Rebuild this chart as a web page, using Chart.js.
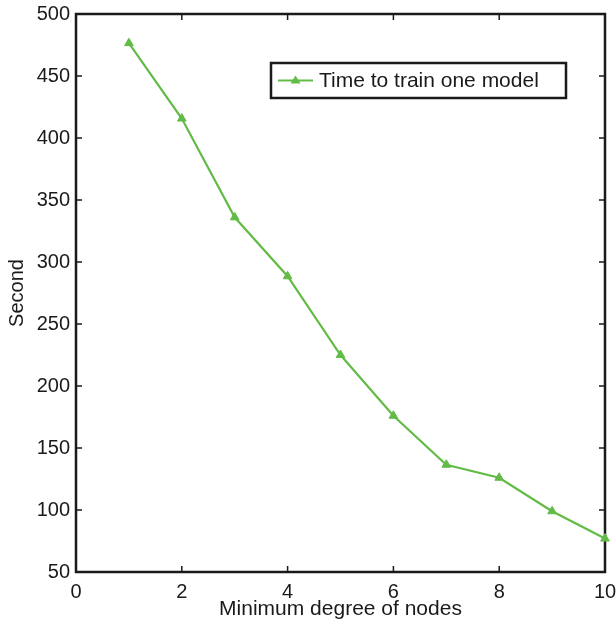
<!DOCTYPE html>
<html>
<head>
<meta charset="utf-8">
<title>Training time vs minimum degree</title>
<script src="https://cdn.jsdelivr.net/npm/chart.js"></script>
<style>
  html, body { margin: 0; padding: 0; background: #fff; overflow: hidden; }
  #wrap { width: 616px; height: 625px; }
</style>
</head>
<body>
<div id="wrap"><canvas id="timeChart" width="616" height="625"></canvas></div>
<script>
const degrees = [1, 2, 3, 4, 5, 6, 7, 8, 9, 10];
const seconds = [476.5, 415.7, 336, 288.5, 225, 176, 136.5, 126, 99, 77];
const xTicks = [0, 2, 4, 6, 8, 10];
const yTicks = [50, 100, 150, 200, 250, 300, 350, 400, 450, 500];
const seriesLabel = 'Time to train one model';

const lineColor = '#62bb46';
const inkColor = '#1a1a1a';
const fontFamily = '"Liberation Sans", Arial, sans-serif';

// MATLAB-style box around the plot with ticks pointing inward
const boxAxes = {
  id: 'boxAxes',
  beforeDatasetsDraw(chart) {
    const { ctx, chartArea: a, scales: { x, y } } = chart;
    ctx.save();
    ctx.strokeStyle = inkColor;
    ctx.lineWidth = 2.5;
    ctx.strokeRect(a.left, a.top, a.right - a.left, a.bottom - a.top);
    ctx.lineWidth = 1.5;
    ctx.beginPath();
    xTicks.forEach(v => {
      const px = x.getPixelForValue(v);
      ctx.moveTo(px, a.bottom); ctx.lineTo(px, a.bottom - 6);
      ctx.moveTo(px, a.top); ctx.lineTo(px, a.top + 6);
    });
    yTicks.forEach(v => {
      const py = y.getPixelForValue(v);
      ctx.moveTo(a.left, py); ctx.lineTo(a.left + 6, py);
      ctx.moveTo(a.right, py); ctx.lineTo(a.right - 6, py);
    });
    ctx.stroke();
    ctx.restore();
  }
};

// boxed legend sitting inside the plot area
const boxedLegend = {
  id: 'boxedLegend',
  afterDraw(chart) {
    const { ctx, chartArea: a } = chart;
    const left = a.left + 195, top = a.top + 49, w = 295, h = 35;
    const midY = top + h / 2;
    ctx.save();
    ctx.fillStyle = '#fff';
    ctx.fillRect(left, top, w, h);
    ctx.strokeStyle = inkColor;
    ctx.lineWidth = 2.5;
    ctx.strokeRect(left, top, w, h);
    ctx.strokeStyle = lineColor;
    ctx.lineWidth = 2;
    ctx.beginPath();
    ctx.moveTo(left + 7, midY); ctx.lineTo(left + 42, midY);
    ctx.stroke();
    ctx.fillStyle = lineColor;
    ctx.beginPath();
    ctx.moveTo(left + 24.5, midY - 5);
    ctx.lineTo(left + 29.5, midY + 3);
    ctx.lineTo(left + 19.5, midY + 3);
    ctx.closePath();
    ctx.fill();
    ctx.fillStyle = inkColor;
    ctx.font = '21px ' + fontFamily;
    ctx.textBaseline = 'middle';
    ctx.fillText(seriesLabel, left + 48, midY + 1);
    ctx.restore();
  }
};

new Chart(document.getElementById('timeChart'), {
  type: 'line',
  data: {
    labels: degrees,
    datasets: [{
      label: seriesLabel,
      data: degrees.map((d, i) => ({ x: d, y: seconds[i] })),
      borderColor: lineColor,
      backgroundColor: lineColor,
      borderWidth: 2.2,
      pointStyle: 'triangle',
      pointRadius: 5,
      pointBorderWidth: 1,
      tension: 0,
      clip: false
    }]
  },
  options: {
    responsive: false,
    animation: false,
    layout: { padding: { top: 14, right: 0, left: 0, bottom: 0 } },
    plugins: {
      legend: { display: false },
      tooltip: { enabled: false }
    },
    scales: {
      x: {
        type: 'linear',
        min: 0,
        max: 10,
        afterBuildTicks: s => { s.ticks = xTicks.map(v => ({ value: v })); },
        afterFit: s => { s.height = 53; s.paddingLeft = 0; s.paddingRight = 11; },
        grid: { display: false, drawTicks: false },
        border: { display: false },
        ticks: { color: inkColor, padding: 8, font: { family: fontFamily, size: 20 } },
        title: {
          display: true,
          text: 'Minimum degree of nodes',
          color: inkColor,
          padding: { top: 0, bottom: 3 },
          font: { family: fontFamily, size: 21 }
        }
      },
      y: {
        min: 50,
        max: 500,
        afterBuildTicks: s => { s.ticks = yTicks.map(v => ({ value: v })); },
        afterFit: s => { s.width = 76; s.paddingTop = 0; s.paddingBottom = 0; },
        grid: { display: false, drawTicks: false },
        border: { display: false },
        ticks: { color: inkColor, padding: 6, font: { family: fontFamily, size: 20 } },
        title: {
          display: true,
          text: 'Second',
          color: inkColor,
          padding: { top: 5, bottom: 0 },
          font: { family: fontFamily, size: 20 }
        }
      }
    }
  },
  plugins: [boxAxes, boxedLegend]
});
</script>
</body>
</html>
